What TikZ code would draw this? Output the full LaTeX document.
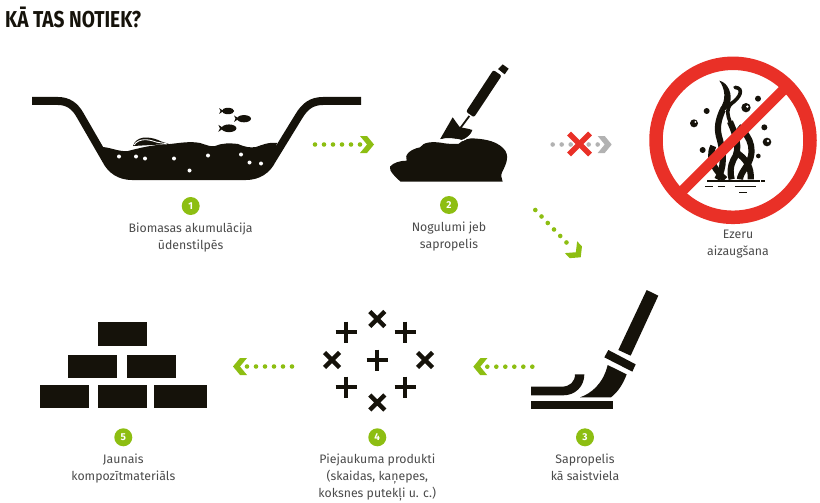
\documentclass[tikz,border=0pt]{standalone}
\usepackage{fontspec}
\setmainfont{Fira Sans}
\newfontfamily\titlefont[FakeStretch=0.83]{Fira Sans}
\usetikzlibrary{positioning,arrows.meta}
\definecolor{ink}{HTML}{15120A}
\definecolor{lgreen}{HTML}{8DBE12}
\definecolor{nored}{HTML}{E93027}
\definecolor{midgray}{HTML}{B2B2B2}
\definecolor{txt}{HTML}{4A4A4A}
\pgfdeclarearrow{
	name=Chev,
	setup code={
		\pgfarrowssettipend{.5\pgfarrowlength}
		\pgfarrowssetbackend{-.5\pgfarrowlength}
		\pgfarrowssetlineend{-.42\pgfarrowlength}
		\pgfarrowssavethe\pgfarrowlength
		\pgfarrowssavethe\pgfarrowwidth
	},
	drawing code={
		\pgfpathmoveto{\pgfqpoint{.5\pgfarrowlength}{0pt}}
		\pgfpathlineto{\pgfqpoint{0pt}{.5\pgfarrowwidth}}
		\pgfpathlineto{\pgfqpoint{-.5\pgfarrowlength}{.5\pgfarrowwidth}}
		\pgfpathlineto{\pgfqpoint{0pt}{0pt}}
		\pgfpathlineto{\pgfqpoint{-.5\pgfarrowlength}{-.5\pgfarrowwidth}}
		\pgfpathlineto{\pgfqpoint{0pt}{-.5\pgfarrowwidth}}
		\pgfpathclose
		\pgfusepathqfill
	},
	defaults={length=14pt,width=17pt}
}
\tikzset{stepnum/.style={circle, fill=lgreen, text=white, inner sep=0pt, minimum size=18pt, font=\bfseries\fontsize{10}{10}\selectfont}}
\tikzset{lbl/.style={align=center, text=txt, inner sep=0pt, font=\fontsize{12.3}{17}\selectfont, below=7.5pt of #1}}
\tikzset{dotarr/.style={draw=#1, line width=4.6pt, line cap=round, dash pattern=on 0pt off 9pt, -{Chev[color=#1]}}}
\tikzset{seaweed/.style={draw=ink, line width=3.6pt, line cap=round}}
\tikzset{seaweedlow/.style={draw=ink, line width=6.2pt, line cap=butt}}
\tikzset{fish/.pic={
	\fill[ink] (0,0) ellipse (5.6 and 2.9);
	\fill[ink] (-4,0) -- (-8,-2.6) -- (-6.8,0) -- (-8,2.6) -- cycle;
}}
\begin{document}
\begin{tikzpicture}[x=1pt, y=-1pt]
	\useasboundingbox (0,0) rectangle (820,503);
	\node[anchor=base west, inner sep=0pt, text=ink, font=\titlefont\bfseries\fontsize{23}{23}\selectfont] (title) at (5,28) {KĀ TAS NOTIEK?};
	% basin
	\fill[ink] (103,147) .. controls (112,148) and (120,152) .. (128,151)
		.. controls (140,148) and (150,145) .. (170,144)
		.. controls (180,143) and (190,141) .. (200,143)
		.. controls (207,145) and (210,147) .. (215,146)
		.. controls (222,143) and (230,143) .. (238,144)
		.. controls (245,147) and (250,148) .. (256,147)
		.. controls (262,145) and (268,142) .. (277,143)
		-- (270,165) -- (250,176) -- (130,176) -- (108,165) -- cycle;
	\draw[ink, line width=8pt, line join=round] (32,101) -- (58,101)
		.. controls (68,101) and (75,106) .. (80,115) -- (106,160)
		.. controls (111,170) and (120,176) .. (132,176) -- (246,176)
		.. controls (258,176) and (267,170) .. (272,160) -- (299,116)
		.. controls (305,106) and (312,101) .. (323,101) -- (361,101);
	\fill[ink] (133,146) .. controls (136,136) and (148,136) .. (158,140) .. controls (162,142) and (166,143) .. (169,144) -- cycle;
	\draw[white, line width=.9pt] (134,145) .. controls (139,138) and (148,139) .. (156,142) .. controls (160,143) and (164,143) .. (167,144);
	\foreach \dx/\dy in {119/156.5, 136/156.5, 145/158.5, 174/158.5, 208/155.5, 241/154.5, 249.5/162.5, 261/163.5, 189.5/170.5} {
		\fill[white] (\dx,\dy) circle (2);
	}
	\pic[scale=1.1] at (228,111) {fish};
	\pic[scale=1.25] at (244,118.7) {fish};
	\pic[scale=1.33] at (229,128.3) {fish};
	% mound and trowel
	\begin{scope}[shift={(380,40)}, scale=1/3]
		\fill[ink] (30,380) .. controls (40,368) and (60,362) .. (80,362)
			.. controls (72,345) and (90,328) .. (120,322) .. controls (130,305) and (160,305) .. (182,308)
			.. controls (200,312) and (220,312) .. (235,312) .. controls (250,298) and (270,292) .. (290,296)
			.. controls (320,298) and (350,305) .. (370,325) .. controls (390,345) and (380,370) .. (367,395)
			.. controls (362,405) and (364,415) .. (368,425) -- (62,425) .. controls (50,415) and (25,392) .. (30,380) -- cycle;
	\end{scope}
	\begin{scope}[shift={(430,60)}, scale=1/3]
		\fill[ink] (30,238) -- (68,172) -- (88,200) .. controls (100,205) and (115,205) .. (127,210)
			.. controls (125,222) and (110,235) .. (95,240) .. controls (75,235) and (50,232) .. (30,238) -- cycle;
		\draw[white, line width=.9pt] (28,240) .. controls (50,234) and (75,236) .. (97,242) .. controls (110,238) and (122,228) .. (130,212);
		\draw[ink, line width=1.8pt] (92,203) -- (118,168);
		\fill[ink, rounded corners=2pt] (108,155) -- (190,30) -- (215,47) -- (132,172) -- cycle;
		\fill[ink] (204,27) -- (218,13) -- (236,26) -- (224,43) -- cycle;
	\end{scope}
	% overgrown lake, crossed out
	\begin{scope}[shift={(680,70)}, scale=1/3]
		\fill[ink] (118,32) .. controls (145,38) and (160,75) .. (148,105) .. controls (135,125) and (130,130) .. (120,115) .. controls (140,90) and (135,55) .. (118,32) -- cycle;
		\draw[seaweed] (165,52) .. controls (195,55) and (178,85) .. (155,100) .. controls (138,115) and (142,135) .. (150,155);
		\draw[seaweedlow] (128,120) .. controls (115,150) and (108,175) .. (120,210) .. controls (130,250) and (135,290) .. (112,328);
		\draw[seaweedlow] (150,155) .. controls (165,190) and (185,235) .. (160,270) .. controls (150,290) and (150,310) .. (155,328);
		\draw[seaweedlow] (100,228) .. controls (80,270) and (110,305) .. (135,328);
		\draw[seaweedlow] (175,170) .. controls (215,200) and (230,250) .. (195,295) .. controls (185,310) and (180,320) .. (180,328);
		\draw[seaweedlow] (165,245) .. controls (200,265) and (215,295) .. (212,328);
		\foreach \dx/\dy/\rad in {42/160/12, 80/123/9, 68/240/9, 198/113/14, 234/86/9, 253/172/9, 261/216/13, 235/258/7} {
			\fill[ink] (\dx,\dy) circle (\rad);
		}
		\fill[white] (202,110) circle (4);
		\fill[white] (264,213) circle (4);
		\fill[white] (46,156) circle (3);
		\draw[ink, line width=1.2pt] (82,333) -- (240,333) (244,333) -- (255,333);
		\draw[ink, line width=1.2pt] (75,350) -- (100,350) (113,350) -- (135,350) (165,350) -- (227,350) (178,367) -- (200,367);
	\end{scope}
	\draw[nored, line width=13.5pt] (733,140.3) circle (77);
	\draw[nored, line width=10.5pt] (680,193.3) -- (786,87.3);
	% binder brush
	\begin{scope}[shift={(525,285)}, scale=1/3]
		\fill[ink] (280,195) -- (365,15) -- (400,32) -- (317,212) -- cycle;
		\fill[ink] (250,195) -- (332,238) -- (322,260) -- (238,217) -- cycle;
		\fill[ink] (165,337) .. controls (200,325) and (235,295) .. (248,240) -- (305,268)
			.. controls (295,295) and (280,320) .. (258,337) -- cycle;
		\fill[ink] (18,305) -- (110,305) .. controls (135,305) and (150,290) .. (150,268) -- (178,268)
			.. controls (178,305) and (150,331) .. (115,331) -- (18,331) -- cycle;
		\fill[ink] (18,347) rectangle (265,373);
	\end{scope}
	% additives
	\foreach \dx/\dy in {346/332, 405/332, 377/360, 346/387, 405/387} {
		\draw[ink, line width=4.4pt] (\dx-10.5,\dy) -- (\dx+10.5,\dy) (\dx,\dy-10.5) -- (\dx,\dy+10.5);
	}
	\foreach \dx/\dy in {377.3/319, 332/360, 425/360, 377.3/402.5} {
		\draw[ink, line width=4.4pt] (\dx-7.5,\dy-7.5) -- (\dx+7.5,\dy+7.5) (\dx-7.5,\dy+7.5) -- (\dx+7.5,\dy-7.5);
	}
	% bricks
	\foreach \bx/\by/\bw in {97.7/322.3/49, 68/354.7/49, 127.3/354.7/49, 40.3/384.7/49, 97.7/384.7/49, 154/384.7/52.5} {
		\fill[ink] (\bx,\by) rectangle ++(\bw,23.7);
	}
	% numbers and labels
	\node[stepnum] (n1) at (190.7,206) {1};
	\node[stepnum] (n2) at (449,205) {2};
	\node[stepnum] (n3) at (585,437.3) {3};
	\node[stepnum] (n4) at (377.3,437.3) {4};
	\node[stepnum] (n5) at (123.3,437.3) {5};
	\node[lbl=n1] (l1) {Biomasas akumulācija\\ūdenstilpēs};
	\node[lbl=n2] (l2) {Nogulumi jeb\\sapropelis};
	\node[lbl=n3] (l3) {Sapropelis\\kā saistviela};
	\node[lbl=n4] (l4) {Piejaukuma produkti\\(skaidas, kaņepes,\\koksnes putekļi u. c.)};
	\node[lbl=n5] (l5) {Jaunais\\kompozītmateriāls};
	\node[align=center, text=txt, inner sep=0pt, font=\fontsize{12.3}{17}\selectfont, anchor=north] (l6) at (738,229.5) {Ezeru\\aizaugšana};
	% arrows
	\coordinate (a1) at (315,144.5);
	\coordinate (a2) at (374,144.5);
	\coordinate (b1) at (552.7,144.5);
	\coordinate (b2) at (611.7,144.5);
	\coordinate (c1) at (535.3,210);
	\coordinate (c2) at (580.7,257.3);
	\coordinate (d1) at (532.3,366.7);
	\coordinate (d2) at (473.3,366.7);
	\coordinate (e1) at (292,366.5);
	\coordinate (e2) at (233,366.5);
	\draw[dotarr=lgreen] (a1) -- (a2);
	\draw[dotarr=midgray] (b1) -- (b2);
	\draw[dotarr=lgreen, -{Chev[length=18pt,width=25pt,color=lgreen]}] (c1) -- (c2);
	\draw[dotarr=lgreen] (d1) -- (d2);
	\draw[dotarr=lgreen] (e1) -- (e2);
	\coordinate (x) at (579.5,144);
	\draw[nored, line width=5.5pt] ([shift={(-10.5,-10.5)}]x) -- ([shift={(10.5,10.5)}]x);
	\draw[nored, line width=5.5pt] ([shift={(-10.5,10.5)}]x) -- ([shift={(10.5,-10.5)}]x);
\end{tikzpicture}
\end{document}
